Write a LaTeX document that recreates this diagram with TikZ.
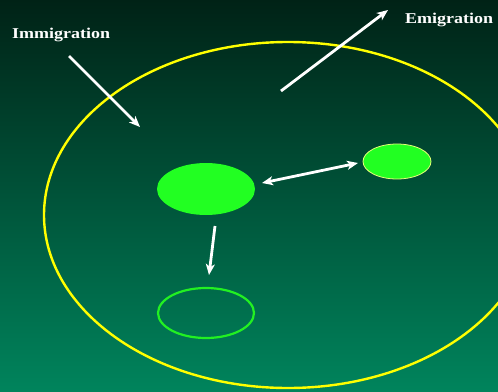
\documentclass[tikz,border=0pt]{standalone}
\usepackage{fontspec}
\setmainfont{Liberation Serif}
\usetikzlibrary{arrows.meta,shapes.geometric}
\definecolor{bgtop}{RGB}{0,34,22}
\definecolor{bgbot}{RGB}{0,132,92}
\definecolor{blob}{RGB}{34,255,34}
\definecolor{ring}{RGB}{255,255,0}
\tikzset{
  flow/.style={draw=white,line width=2.8pt,-{Stealth[length=11pt,width=9pt,inset=3pt]}},
  both/.style={draw=white,line width=2.8pt,{Stealth[length=11pt,width=9pt,inset=3pt]}-{Stealth[length=11pt,width=9pt,inset=3pt]}},
  lab/.style={text=white,font=\bfseries\fontsize{15}{17}\selectfont,inner sep=0pt},
}
\begin{document}
\begin{tikzpicture}[x=1pt,y=-1pt]
\useasboundingbox (0,0) rectangle (498,391);
\shade[top color=bgtop,bottom color=bgbot] (0,0) rectangle (498,391);
\begin{scope}
\clip (0,0) rectangle (498,391);
\draw[ring,line width=2.4pt] (288,215) ellipse [x radius=244,y radius=173];
\end{scope}
\node[ellipse,fill=blob,minimum width=98pt,minimum height=52pt,inner sep=0pt] (big) at (206,189) {};
\node[fill=blob,draw={rgb,255:red,230;green,255;blue,120},line width=0.8pt,ellipse,minimum width=68pt,minimum height=35pt,inner sep=0pt] (small) at (397,161.5) {};
\node[draw={rgb,255:red,34;green,240;blue,34},line width=2.2pt,ellipse,minimum width=96pt,minimum height=50pt,inner sep=0pt] (empty) at (206,313) {};
\node[lab,anchor=west] (imm) at (12,35) {\scalebox{1.2}[1]{Immigration}};
\node[lab,anchor=west] (emi) at (405,20) {\scalebox{1.2}[1]{Emigration}};
\coordinate (i1) at (69,56);
\coordinate (i2) at (140,127);
\coordinate (e1) at (281,91);
\coordinate (e2) at (388,10);
\coordinate (d1) at (262,183);
\coordinate (d2) at (358,163);
\coordinate (v1) at (215,226);
\coordinate (v2) at (209,275);
\draw[flow] (i1) -- (i2);
\draw[flow] (e1) -- (e2);
\draw[both] (d1) -- (d2);
\draw[flow] (v1) -- (v2);
\end{tikzpicture}
\end{document}
